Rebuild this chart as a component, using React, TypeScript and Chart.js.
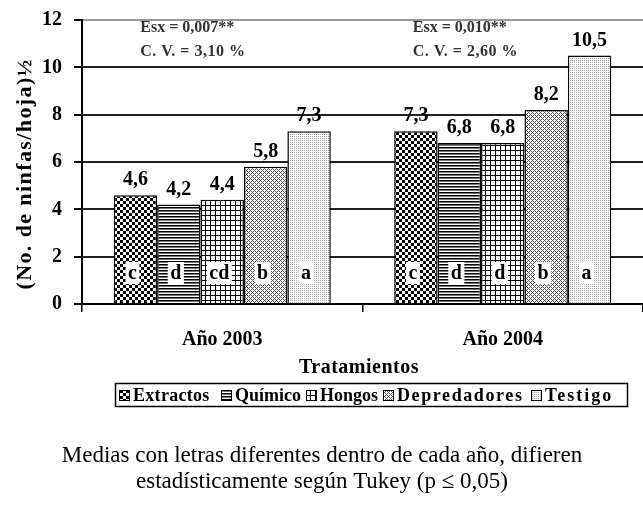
import { useEffect, useRef } from "react";
import { Chart, registerables } from "chart.js";
Chart.register(...registerables);

const years = ["Año 2003", "Año 2004"];
const treatments = ["Extractos", "Químico", "Hongos", "Depredadores", "Testigo"];
const extractos = [4.6, 7.3];
const quimico = [4.2, 6.8];
const hongos = [4.4, 6.8];
const depredadores = [5.8, 8.2];
const testigo = [7.3, 10.5];
const letters2003 = ["c", "d", "cd", "b", "a"];
const letters2004 = ["c", "d", "d", "b", "a"];
const esxLabels = ["Esx = 0,007**", "Esx = 0,010**"];
const cvLabels = ["C. V. = 3,10 %", "C. V. = 2,60 %"];
const yAxisTitle = "(No. de ninfas/hoja)½";
const xAxisTitle = "Tratamientos";
const footnote = [
  "Medias con letras diferentes dentro de cada año, difieren",
  "estadísticamente según Tukey (p ≤ 0,05)",
];

const SERIF = '"Liberation Serif", "Times New Roman", serif';

function makePattern(kind: string): CanvasPattern | string {
  const c = document.createElement("canvas");
  let p = 6;
  if (kind === "quimico") p = 3;
  if (kind === "hongos") p = 5;
  if (kind === "testigo") p = 2;
  if (kind === "depredadores") p = 4;
  c.width = p;
  c.height = p;
  const g = c.getContext("2d")!;
  g.fillStyle = "#fff";
  g.fillRect(0, 0, p, p);
  if (kind === "extractos") {
    g.fillStyle = "#000";
    g.fillRect(0, 0, 3, 3);
    g.fillRect(3, 3, 3, 3);
  } else if (kind === "quimico") {
    g.fillStyle = "#000";
    g.fillRect(0, 0, p, 1);
    g.fillStyle = "#777";
    g.fillRect(0, 1, p, 1);
  } else if (kind === "hongos") {
    g.fillStyle = "#000";
    g.fillRect(0, 0, p, 1);
    g.fillRect(0, 0, 1, p);
  } else if (kind === "depredadores") {
    g.fillStyle = "#555";
    for (let x = 0; x < p; x++) {
      for (let y = 0; y < p; y++) {
        if ((x + y) % 4 === 0 || (x - y + 4) % 4 === 0) g.fillRect(x, y, 1, 1);
      }
    }
  } else if (kind === "testigo") {
    g.fillStyle = "#aaa";
    g.fillRect(0, 0, 1, 1);
  }
  return g.createPattern(c, "repeat")!;
}

const fmt = (v: number) => v.toFixed(1).replace(".", ",");

export default function App() {
  const ref = useRef<HTMLCanvasElement>(null);
  useEffect(() => {
    document.body.style.margin = "0";
    const kinds = ["extractos", "quimico", "hongos", "depredadores", "testigo"];
    const pats = kinds.map(makePattern);
    const series = [extractos, quimico, hongos, depredadores, testigo];
    const lettersByYear = [letters2003, letters2004];

    const overlay = {
      id: "overlay",
      afterDatasetsDraw(chart: any) {
        const ctx = chart.ctx as any;
        const yS = chart.scales.y;
        const xS = chart.scales.x;
        ctx.save();
        ctx.letterSpacing = "0px";
        chart.data.datasets.forEach((ds: any, di: number) => {
          const meta = chart.getDatasetMeta(di);
          meta.data.forEach((bar: any, i: number) => {
            const v = ds.data[i];
            ctx.font = `bold 20px ${SERIF}`;
            ctx.fillStyle = "#000";
            ctx.textAlign = "center";
            ctx.textBaseline = "alphabetic";
            ctx.fillText(fmt(v), bar.x, bar.y - 10);
            const letter = lettersByYear[i][di];
            const w = ctx.measureText(letter).width + 5;
            const cx = bar.x - 3;
            const cy = yS.getPixelForValue(0) - 31;
            ctx.fillStyle = "#fff";
            ctx.fillRect(cx - w / 2, cy - 11, w, 22);
            ctx.fillStyle = "#000";
            ctx.textBaseline = "middle";
            ctx.fillText(letter, cx, cy + 1);
          });
        });
        // annotations
        const dx = [-82, -90];
        years.forEach((_, i) => {
          const x = xS.getPixelForValue(i) + dx[i];
          ctx.font = `bold 16px ${SERIF}`;
          ctx.fillStyle = "#333";
          ctx.textAlign = "left";
          ctx.textBaseline = "middle";
          ctx.letterSpacing = "0px";
          ctx.fillText(esxLabels[i], x, 28);
          ctx.letterSpacing = "0.5px";
          ctx.fillText(cvLabels[i], x, 52);
        });
        ctx.restore();
      },
      afterDraw(chart: any) {
        const ctx = chart.ctx as any;
        const area = chart.chartArea;
        ctx.save();
        // y title
        ctx.translate(25, (area.top + area.bottom) / 2 + 12);
        ctx.rotate(-Math.PI / 2);
        ctx.font = `bold 22px ${SERIF}`;
        ctx.letterSpacing = "1.4px";
        ctx.fillStyle = "#000";
        ctx.textAlign = "center";
        ctx.textBaseline = "middle";
        ctx.fillText(yAxisTitle, 0, 0);
        ctx.restore();

        ctx.save();
        ctx.font = `bold 20px ${SERIF}`;
        ctx.letterSpacing = "0.5px";
        ctx.fillStyle = "#000";
        ctx.textAlign = "center";
        ctx.textBaseline = "middle";
        ctx.fillText(xAxisTitle, 359, 368);

        // legend
        ctx.lineWidth = 1.5;
        ctx.strokeStyle = "#000";
        ctx.strokeRect(115.5, 383.5, 512, 23);
        const itemX = [119, 221, 306, 383, 531];
        const spacing = ["0.3px", "0px", "0px", "1.6px", "2px"];
        ctx.font = `bold 18px ${SERIF}`;
        ctx.textAlign = "left";
        treatments.forEach((t, i) => {
          const x = itemX[i];
          ctx.fillStyle = pats[i] as any;
          ctx.fillRect(x, 390, 10, 10);
          ctx.lineWidth = 1;
          ctx.strokeRect(x + 0.5, 390.5, 10, 10);
          ctx.fillStyle = "#000";
          ctx.letterSpacing = spacing[i];
          ctx.fillText(t, x + 14, 396);
        });

        // footnote
        ctx.font = `23px ${SERIF}`;
        ctx.letterSpacing = "0px";
        ctx.textAlign = "center";
        ctx.fillText(footnote[0], 322, 456);
        ctx.fillText(footnote[1], 322, 482);
        ctx.restore();
      },
    };

    const chart = new Chart(ref.current!, {
      type: "bar",
      data: {
        labels: years,
        datasets: treatments.map((t, i) => ({
          label: t,
          data: series[i],
          backgroundColor: pats[i] as any,
          borderColor: "#000",
          borderWidth: 1.5,
          categoryPercentage: 0.774,
          barPercentage: 1,
        })),
      },
      options: {
        animation: false,
        responsive: false,
        layout: { padding: { left: 0, top: 20, right: 0, bottom: 0 } },
        plugins: { legend: { display: false }, tooltip: { enabled: false } },
        scales: {
          x: {
            offset: true,
            grid: {
              offset: true,
              drawOnChartArea: false,
              drawTicks: true,
              tickLength: 8,
              color: "#000",
              lineWidth: 1.5,
            },
            border: { color: "#000", width: 2 },
            ticks: {
              font: { family: SERIF, size: 20, weight: "bold" },
              color: "#000",
              padding: 16,
            },
            afterFit(s: any) {
              s.height = 214;
            },
          },
          y: {
            min: 0,
            max: 12,
            ticks: {
              stepSize: 2,
              font: { family: SERIF, size: 20, weight: "bold" },
              color: "#000",
              padding: 12,
            },
            grid: {
              color: (c: any) => (c.tick && c.tick.value === 12 ? "#999" : "#222"),
              lineWidth: 2,
              tickLength: 8,
              tickColor: "#000",
            },
            border: { color: "#000", width: 2 },
            afterFit(s: any) {
              s.width = 82;
              s.paddingTop = 12;
              s.paddingBottom = 12;
            },
          },
        },
      },
      plugins: [overlay],
    });
    return () => chart.destroy();
  }, []);
  return <canvas ref={ref} width={643} height={518} style={{ display: "block" }} />;
}
